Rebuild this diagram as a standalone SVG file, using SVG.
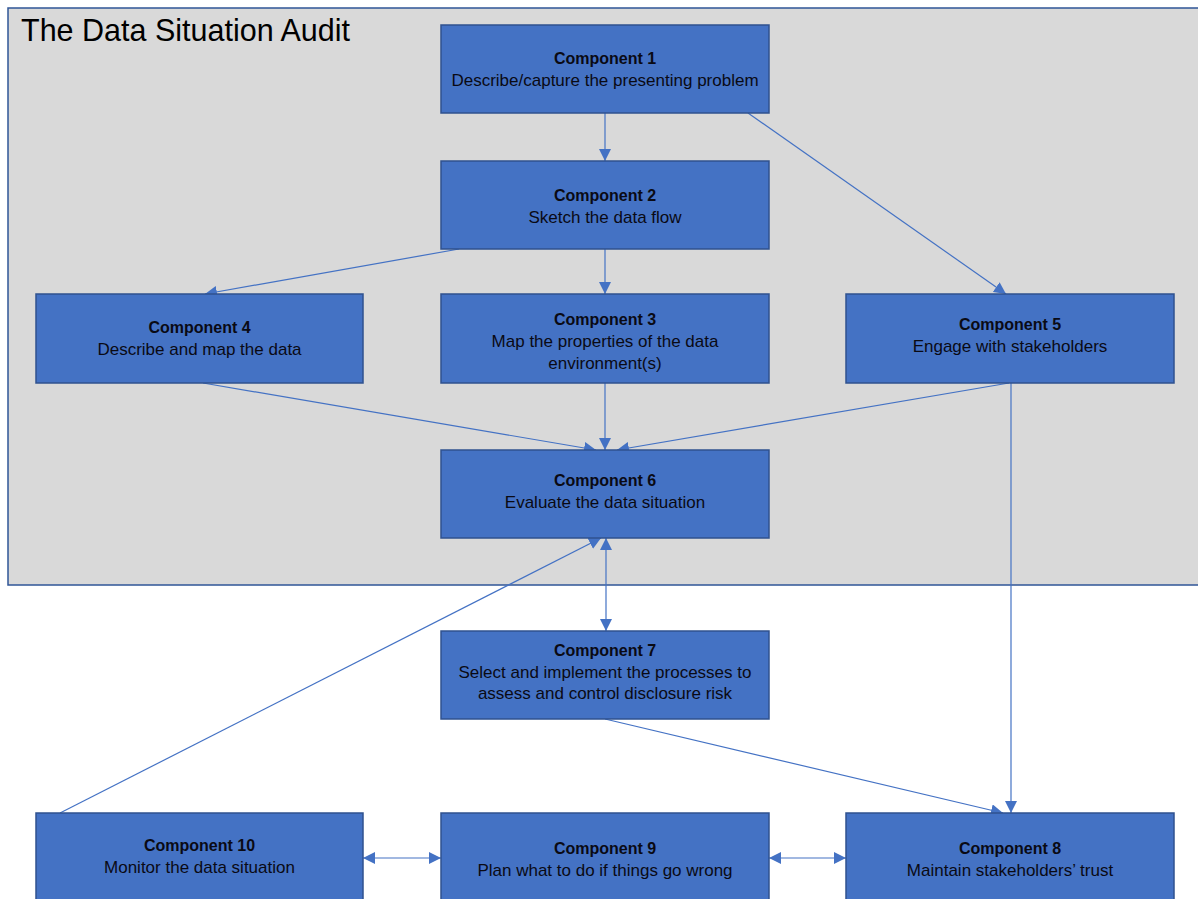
<svg xmlns="http://www.w3.org/2000/svg" width="1198" height="899" viewBox="0 0 1198 899">
  <style>
    .frame { fill: #D9D9D9; stroke: #2F5597; stroke-width: 1.5; }
    .title { font-family: "Liberation Sans", Arial, sans-serif; font-size: 30.5px; fill: #000; }
    .box { fill: #4472C4; stroke: #2F528F; stroke-width: 1.5; }
    .hd { font-family: "Liberation Sans", Arial, sans-serif; font-size: 16px; font-weight: bold; fill: #0A0A14; text-anchor: middle; }
    .tx { font-family: "Liberation Sans", Arial, sans-serif; font-size: 17px; fill: #0A0A14; text-anchor: middle; }
    .link { stroke: #4472C4; stroke-width: 1.2; fill: none; }
    .link-end { marker-end: url(#arrow); }
    .link-both { marker-start: url(#arrowStart); marker-end: url(#arrow); }
  </style>
  <defs>
    <marker id="arrow" markerUnits="userSpaceOnUse" markerWidth="12" markerHeight="12" refX="10" refY="5" orient="auto" viewBox="0 0 10 10">
      <path d="M0,0 L10,5 L0,10 Z" fill="#4472C4"/>
    </marker>
    <marker id="arrowStart" markerUnits="userSpaceOnUse" markerWidth="12" markerHeight="12" refX="0" refY="5" orient="auto" viewBox="0 0 10 10">
      <path d="M10,0 L0,5 L10,10 Z" fill="#4472C4"/>
    </marker>
  </defs>

  <!-- audit frame -->
  <g id="audit-frame">
    <rect class="frame" x="8" y="8" width="1200" height="577"/>
    <text class="title" x="21" y="41">The Data Situation Audit</text>
  </g>

  <!-- connectors -->
  <g id="connectors">
    <line class="link link-end" x1="605" y1="113" x2="605" y2="161"/>
    <line class="link link-end" x1="748" y1="113" x2="1006" y2="294"/>
    <line class="link link-end" x1="459" y1="249" x2="205" y2="294"/>
    <line class="link link-end" x1="605" y1="249" x2="605" y2="294"/>
    <line class="link link-end" x1="203" y1="383" x2="596" y2="450"/>
    <line class="link link-end" x1="605" y1="383" x2="605" y2="450"/>
    <line class="link link-end" x1="1009" y1="383" x2="617" y2="450"/>
    <line class="link link-end" x1="1011" y1="383" x2="1011" y2="813"/>
    <line class="link link-both" x1="606" y1="538" x2="606" y2="631"/>
    <line class="link link-end" x1="60" y1="813" x2="601" y2="538"/>
    <line class="link link-end" x1="605" y1="719" x2="1003" y2="813"/>
    <line class="link link-both" x1="363" y1="858" x2="441" y2="858"/>
    <line class="link link-both" x1="769" y1="858" x2="846" y2="858"/>
  </g>

  <g id="component-1">
    <rect class="box" x="441" y="25" width="328" height="88"/>
    <text class="hd" x="605" y="64">Component 1</text>
    <text class="tx" x="605" y="86">Describe/capture the presenting problem</text>
  </g>
  <g id="component-2">
    <rect class="box" x="441" y="161" width="328" height="88"/>
    <text class="hd" x="605" y="200.5">Component 2</text>
    <text class="tx" x="605" y="222.5">Sketch the data flow</text>
  </g>
  <g id="component-4">
    <rect class="box" x="36" y="294" width="327" height="89"/>
    <text class="hd" x="199.5" y="333">Component 4</text>
    <text class="tx" x="199.5" y="355">Describe and map the data</text>
  </g>
  <g id="component-3">
    <rect class="box" x="441" y="294" width="328" height="89"/>
    <text class="hd" x="605" y="325">Component 3</text>
    <text class="tx" x="605" y="347">Map the properties of the data</text>
    <text class="tx" x="605" y="369">environment(s)</text>
  </g>
  <g id="component-5">
    <rect class="box" x="846" y="294" width="328" height="89"/>
    <text class="hd" x="1010" y="330">Component 5</text>
    <text class="tx" x="1010" y="352">Engage with stakeholders</text>
  </g>
  <g id="component-6">
    <rect class="box" x="441" y="450" width="328" height="88"/>
    <text class="hd" x="605" y="486">Component 6</text>
    <text class="tx" x="605" y="508">Evaluate the data situation</text>
  </g>
  <g id="component-7">
    <rect class="box" x="441" y="631" width="328" height="88"/>
    <text class="hd" x="605" y="656">Component 7</text>
    <text class="tx" x="605" y="678">Select and implement the processes to</text>
    <text class="tx" x="605" y="699">assess and control disclosure risk</text>
  </g>
  <g id="component-10">
    <rect class="box" x="36" y="813" width="327" height="90"/>
    <text class="hd" x="199.5" y="851">Component 10</text>
    <text class="tx" x="199.5" y="873">Monitor the data situation</text>
  </g>
  <g id="component-9">
    <rect class="box" x="441" y="813" width="328" height="90"/>
    <text class="hd" x="605" y="854">Component 9</text>
    <text class="tx" x="605" y="876">Plan what to do if things go wrong</text>
  </g>
  <g id="component-8">
    <rect class="box" x="846" y="813" width="328" height="90"/>
    <text class="hd" x="1010" y="854">Component 8</text>
    <text class="tx" x="1010" y="876">Maintain stakeholders’ trust</text>
  </g>
</svg>
